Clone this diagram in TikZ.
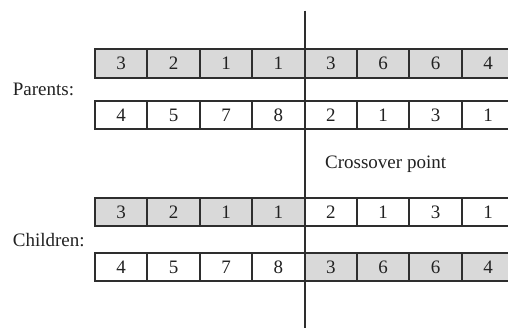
\documentclass[tikz,border=0pt]{standalone}
\usepackage{fontspec}
\setmainfont{Liberation Serif}
\definecolor{cellgray}{HTML}{D9D9D9}
\definecolor{linec}{HTML}{2E2E2E}
\definecolor{textc}{HTML}{222222}
\tikzset{
  cell/.style={draw=linec, line width=2pt, minimum width=52.4pt, minimum height=28.5pt, inner sep=0pt, text=textc},
  gcell/.style={cell, fill=cellgray},
  wcell/.style={cell, fill=white},
  lbl/.style={text=textc, inner sep=0pt, anchor=west},
}
\begin{document}
\begin{tikzpicture}[x=1pt,y=-1pt,font=\fontsize{19}{22}\selectfont]
\clip (0,0) rectangle (508,327);
\fill[white] (0,0) rectangle (508,327);
\def\cw{52.4}
\foreach \v [count=\i] in {3,2,1,1,3,6,6,4}
  \node[gcell] (pa\i) at ({95+(\i-0.5)*\cw},63.5) {\v};
\foreach \v [count=\i] in {4,5,7,8,2,1,3,1}
  \node[wcell] (pb\i) at ({95+(\i-0.5)*\cw},115) {\v};
\foreach \v [count=\i] in {3,2,1,1}
  \node[gcell] (ca\i) at ({95+(\i-0.5)*\cw},212.2) {\v};
\foreach \v [count=\i from 5] in {2,1,3,1}
  \node[wcell] (ca\i) at ({95+(\i-0.5)*\cw},212.2) {\v};
\foreach \v [count=\i] in {4,5,7,8}
  \node[wcell] (cb\i) at ({95+(\i-0.5)*\cw},267) {\v};
\foreach \v [count=\i from 5] in {3,6,6,4}
  \node[gcell] (cb\i) at ({95+(\i-0.5)*\cw},267) {\v};
\node[lbl] (parents) at (12.7,89.2) {Parents:};
\node[lbl] (children) at (12.7,239.7) {Children:};
\node[lbl] (xover) at (325,164.5) {Crossover point};
\coordinate (ctop) at (304.6,10.7);
\coordinate (cbot) at (304.6,330);
\draw[linec, line width=2pt] (ctop) -- (cbot);
\end{tikzpicture}
\end{document}
